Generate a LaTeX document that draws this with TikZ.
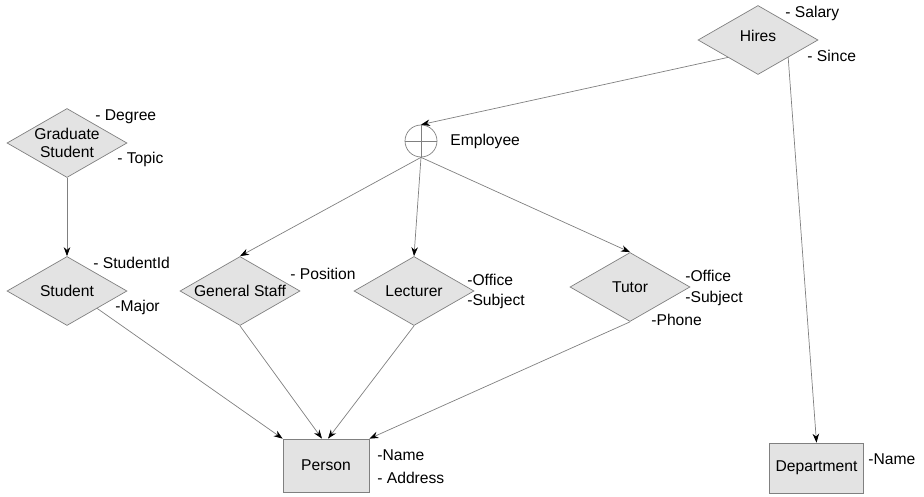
\documentclass[tikz,border=0pt]{standalone}
\usepackage{fontspec}
\setmainfont{Liberation Sans}
\usetikzlibrary{shapes.geometric,arrows.meta}

\tikzset{
  rel/.style={diamond, draw=gray, fill=gray!22, aspect=1.78, inner sep=0pt,
    minimum width=2.4cm, minimum height=1.38cm, align=center},
  ent/.style={rectangle, draw=gray, fill=gray!22},
  attr/.style={anchor=west, inner sep=0pt},
  link/.style={draw=gray, -{Stealth[black,length=1.8mm,width=1.3mm]}}
}

\begin{document}
\begin{tikzpicture}[font=\fontsize{8.9}{10.6}\selectfont]
  \useasboundingbox (0,0) rectangle (18.48,9.92);

  % relationships
  \node[rel] (hires) at (15.16,9.12) {\raisebox{0.16cm}{Hires}};
  \node[rel] (grad) at (1.34,7.06) {Graduate\\Student};
  \node[rel] (student) at (1.34,4.10) {Student};
  \node[rel] (staff) at (4.80,4.10) {General Staff};
  \node[rel] (lect) at (8.28,4.10) {Lecturer};
  \node[rel] (tutor) at (12.60,4.18) {Tutor};

  % entities
  \node[ent, minimum width=1.72cm, minimum height=1.06cm] (person) at (6.52,0.61) {Person};
  \node[ent, minimum width=1.74cm, minimum height=1.0cm] (dept) at (16.33,0.56) {\raisebox{-0.08cm}{Department}};

  % employee (disjoint)
  \node[circle, draw=gray, minimum size=0.64cm, inner sep=0pt] (emp) at (8.42,7.10) {};
  \draw[gray] (emp.north) -- (emp.south);
  \draw[gray] (emp.west) -- (emp.east);
  \node[attr] (empname) at (9.00,7.10) {Employee};

  %-------------
  \node[attr] (salary) at (15.70,9.66) {- Salary};
  \node[attr] (since) at (16.14,8.80) {- Since};

  \node[attr] (degree) at (1.90,7.58) {- Degree};
  \node[attr] (topic) at (2.34,6.74) {- Topic};

  \node[attr] (sid) at (1.86,4.66) {- StudentId};
  \node[attr] (major) at (2.30,3.78) {-Major};

  \node[attr] (position) at (5.80,4.44) {- Position};

  \node[attr] (loffice) at (9.34,4.32) {-Office};
  \node[attr] (lsubject) at (9.34,3.90) {-Subject};

  \node[attr] (toffice) at (13.70,4.40) {-Office};
  \node[attr] (tsubject) at (13.70,3.96) {-Subject};
  \node[attr] (tphone) at (13.02,3.52) {-Phone};

  \node[attr] (pname) at (7.54,0.82) {-Name};
  \node[attr] (paddr) at (7.54,0.36) {- Address};

  \node[attr] (dname) at (17.36,0.74) {-Name};

  %-------------
  \draw[link] (hires.south west) -- (emp.north);
  \draw[link] (hires.south east) -- (dept.north);

  \draw[link] (grad.south) -- (student.north);

  \draw[link] (emp.south) -- (staff.north);
  \draw[link] (emp.south) -- (lect.north);
  \draw[link] (emp.south) -- (tutor.north);

  \draw[link] (student.south east) -- (person.north west);
  \draw[link] (staff.south) -- ([xshift=-0.8mm]person.north);
  \draw[link] (lect.south) -- ([xshift=0.4mm]person.north);
  \draw[link] (tutor.south) -- (person.north east);

\end{tikzpicture}
\end{document}
